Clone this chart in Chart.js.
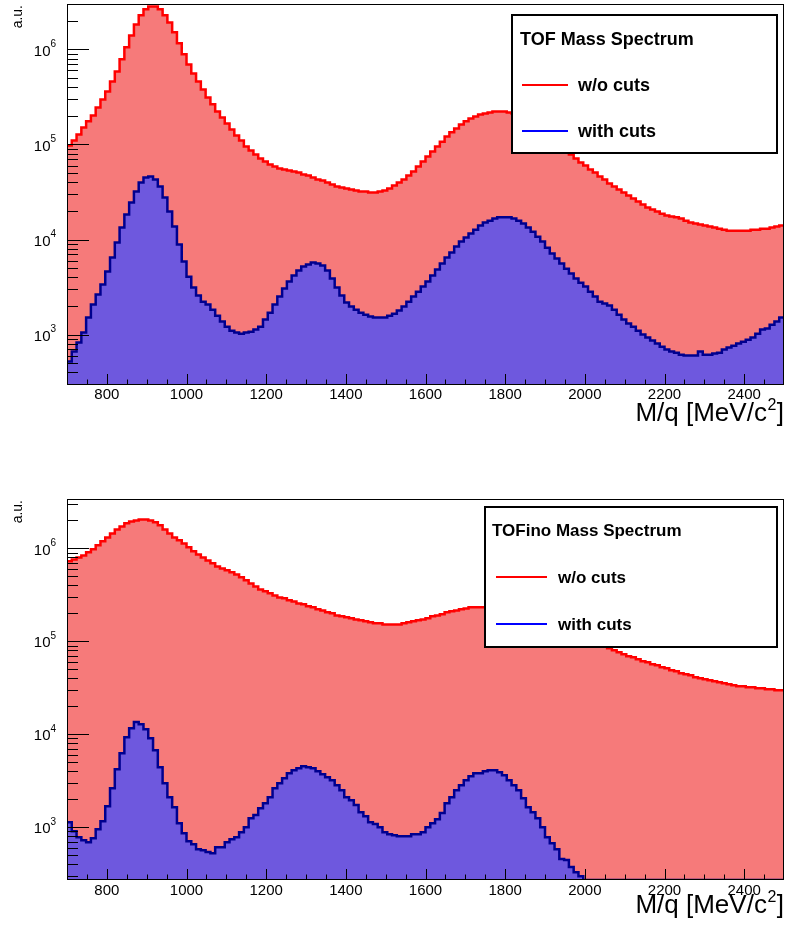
<!DOCTYPE html>
<html>
<head>
<meta charset="utf-8">
<script src="https://cdn.jsdelivr.net/npm/chart.js@4.4.1/dist/chart.umd.min.js"></script>
<style>
  body { margin: 0; background: #fff; }
  .panel { position: absolute; left: 0; width: 785px; height: 463px; }
</style>
</head>
<body>
<canvas id="tofCanvas" class="panel" style="top:0" width="785" height="463"></canvas>
<canvas id="tofinoCanvas" class="panel" style="top:463px" width="785" height="463"></canvas>
<script>
// M/q histogram binning: 150 bins of 12 MeV/c2 from 700 to 2500
const mqLow = 700;
const mqHigh = 2500;
const mqBinWidth = 12;
const xTickValues = [800, 1000, 1200, 1400, 1600, 1800, 2000, 2200, 2400];
const yLabelDecades = [3, 4, 5, 6];

// TOF, without cuts
const tofNoCuts = [
  97500, 110000, 127000, 151000, 175000, 202000, 245000, 297000, 361000, 460000,
  586000, 785000, 1050000, 1400000, 1830000, 2280000, 2640000, 2830000, 2830000, 2640000,
  2280000, 1920000, 1510000, 1160000, 890000, 695000, 558000, 460000, 379000, 312000,
  264000, 222000, 192000, 166000, 144000, 124000, 110000, 95000, 86500, 78400,
  71100, 66200, 61500, 58600, 55800, 54600, 53200, 51900, 50700, 48300,
  47100, 44900, 42800, 41800, 39800, 37900, 36100, 35200, 34400, 33600,
  32700, 32000, 32000, 31200, 31200, 32000, 32700, 34400, 37000, 39800,
  42800, 47100, 51900, 58600, 66200, 74700, 84300, 95000, 107000, 121000,
  134000, 147000, 162000, 175000, 187000, 197000, 207000, 212000, 217000, 222000,
  222000, 222000, 217000, 212000, 202000, 192000, 179000, 166000, 155000, 140000,
  127000, 116000, 105000, 95000, 86500, 78400, 71100, 64600, 60100, 54600,
  50700, 46000, 42800, 38800, 36100, 33600, 31200, 29000, 27000, 25100,
  23300, 21700, 20700, 19700, 18700, 17900, 17500, 17100, 16600, 15800,
  15100, 14700, 14400, 14000, 13700, 13400, 13000, 12700, 12400, 12400,
  12400, 12400, 12400, 12700, 12700, 13000, 13000, 13400, 13700, 14000
];

// TOF, with cuts
const tofWithCuts = [
  520, 662, 824, 1050, 1510, 2070, 2640, 3360, 4600, 6460,
  9300, 13400, 18300, 24500, 32000, 39800, 44900, 46000, 42800, 36100,
  27700, 19700, 13700, 8850, 5870, 4070, 3120, 2570, 2220, 2070,
  1830, 1580, 1370, 1210, 1100, 1050, 1020, 1050, 1070, 1130,
  1210, 1440, 1700, 2070, 2510, 3050, 3610, 4180, 4710, 5190,
  5460, 5730, 5580, 5320, 4710, 3880, 3120, 2570, 2170, 1970,
  1830, 1700, 1620, 1550, 1510, 1510, 1510, 1580, 1660, 1790,
  1970, 2220, 2510, 2830, 3200, 3610, 4180, 4830, 5580, 6460,
  7290, 8430, 9520, 10500, 11600, 12700, 14000, 15100, 15800, 16600,
  17100, 17100, 17100, 16600, 15800, 14700, 13400, 12100, 10700, 9520,
  8200, 7110, 6310, 5580, 4940, 4390, 3880, 3520, 3200, 2830,
  2510, 2220, 2120, 2020, 1830, 1620, 1440, 1310, 1210, 1100,
  1000, 930, 865, 804, 747, 695, 662, 646, 615, 601,
  601, 601, 662, 615, 615, 631, 646, 695, 730, 765,
  804, 843, 885, 930, 1020, 1130, 1160, 1270, 1370, 1510
];

// TOFino, without cuts
const tofinoNoCuts = [
  725000, 761000, 800000, 841000, 906000, 976000, 1080000, 1190000, 1310000, 1450000,
  1600000, 1720000, 1860000, 1950000, 2000000, 2050000, 2050000, 2000000, 1910000, 1770000,
  1600000, 1450000, 1310000, 1220000, 1130000, 1030000, 929000, 862000, 800000, 743000,
  690000, 640000, 609000, 580000, 552000, 525000, 488000, 453000, 420000, 390000,
  362000, 345000, 328000, 312000, 297000, 290000, 276000, 269000, 256000, 250000,
  238000, 232000, 221000, 215000, 205000, 200000, 190000, 186000, 181000, 177000,
  172000, 168000, 164000, 160000, 156000, 156000, 152000, 152000, 152000, 152000,
  156000, 160000, 164000, 168000, 172000, 177000, 186000, 190000, 195000, 205000,
  210000, 215000, 221000, 226000, 232000, 232000, 232000, 232000, 232000, 226000,
  226000, 221000, 215000, 205000, 200000, 190000, 181000, 172000, 164000, 160000,
  152000, 149000, 142000, 135000, 131000, 125000, 119000, 113000, 108000, 103000,
  97600, 92900, 88400, 84100, 80000, 76100, 72500, 69000, 67300, 64000,
  60900, 59400, 56600, 55200, 52500, 51200, 48800, 47500, 45300, 44200,
  43100, 41000, 40000, 39000, 38100, 37200, 36200, 35300, 34500, 33600,
  32800, 32800, 32000, 32000, 31200, 31200, 30500, 30500, 29700, 29700
];

// TOFino, with cuts
const tofinoWithCuts = [
  1130, 906, 780, 725, 690, 761, 950, 1160, 1680, 2620,
  4200, 6250, 9290, 11600, 13500, 12800, 11300, 9060, 6730, 4420,
  2970, 2100, 1640, 1100, 862, 707, 656, 580, 566, 539,
  525, 609, 609, 690, 743, 780, 884, 1000, 1250, 1350,
  1600, 1810, 2100, 2620, 2970, 3360, 3810, 4100, 4310, 4530,
  4420, 4310, 4000, 3720, 3450, 3200, 2830, 2500, 2100, 1950,
  1730, 1450, 1310, 1130, 1080, 1000, 884, 841, 820, 800,
  800, 800, 841, 841, 884, 1000, 1100, 1220, 1420, 1810,
  2100, 2500, 2830, 3200, 3530, 3810, 3810, 4000, 4100, 4100,
  3900, 3620, 3200, 2830, 2500, 2050, 1640, 1450, 1250, 1000,
  780, 673, 580, 453, 442, 372, 328, 297, 0, 0,
  0, 0, 0, 0, 0, 0, 0, 0, 0, 0,
  0, 0, 0, 0, 0, 0, 0, 0, 0, 0,
  0, 0, 0, 0, 0, 0, 0, 0, 0, 0,
  0, 0, 0, 0, 0, 0, 0, 0, 0, 0
];

const fontFamily = '"Liberation Sans", Arial, Helvetica, sans-serif';

// fill colours: average look of ROOT's fine dot hatching
const redFill = 'rgb(246, 122, 122)';
const blueFill = 'rgb(110, 88, 222)';

// outline of a histogram: two points per bin, empty bins sit on the frame
function histPoints(values, floor) {
  const pts = [];
  values.forEach((v, i) => {
    const y = v > 0 ? v : floor;
    const x0 = mqLow + i * mqBinWidth;
    pts.push({ x: x0, y: y }, { x: x0 + mqBinWidth, y: y });
  });
  return pts;
}

const rootStyle = {
  id: 'rootStyle',
  afterDraw(chart, args, o) {
    const ctx = chart.ctx;
    const a = chart.chartArea;
    const xs = chart.scales.x;
    const ys = chart.scales.y;
    ctx.save();
    ctx.strokeStyle = '#000';
    ctx.lineWidth = 1;

    // frame
    ctx.strokeRect(a.left + 0.5, a.top + 0.5, a.right - a.left - 1, a.bottom - a.top - 1);

    // x ticks, inside the frame
    ctx.beginPath();
    for (let v = 750; v < mqHigh; v += 50) {
      const px = Math.round(xs.getPixelForValue(v)) + 0.5;
      const len = v % 200 === 0 ? 11 : 5.5;
      ctx.moveTo(px, a.bottom);
      ctx.lineTo(px, a.bottom - len);
    }
    // y ticks (log)
    for (let d = 2; d <= 6; d++) {
      for (let m = 1; m <= 9; m++) {
        const v = m * Math.pow(10, d);
        if (v < ys.min || v > ys.max) continue;
        const py = Math.round(ys.getPixelForValue(v)) + 0.5;
        ctx.moveTo(a.left, py);
        ctx.lineTo(a.left + (m === 1 ? 22 : 11), py);
      }
    }
    ctx.stroke();

    ctx.fillStyle = '#000';
    // x tick labels
    ctx.font = '15px ' + fontFamily;
    ctx.textAlign = 'center';
    ctx.textBaseline = 'middle';
    xTickValues.forEach(v => {
      ctx.fillText(String(v), xs.getPixelForValue(v), a.bottom + o.xLabelGap);
    });

    // y tick labels 10^n
    yLabelDecades.forEach(d => {
      const py = ys.getPixelForValue(Math.pow(10, d));
      ctx.font = '15px ' + fontFamily;
      ctx.textAlign = 'right';
      ctx.fillText('10', a.left - 16.5, py + 2);
      ctx.font = '10px ' + fontFamily;
      ctx.textAlign = 'left';
      ctx.fillText(String(d), a.left - 16.5, py - 5);
    });

    // x axis title, right aligned: M/q [MeV/c^2]
    const ty = a.bottom + o.titleGap;
    ctx.textBaseline = 'alphabetic';
    ctx.textAlign = 'left';
    ctx.font = '26px ' + fontFamily;
    const wMain = ctx.measureText('M/q [MeV/c').width;
    const wClose = ctx.measureText(']').width;
    ctx.font = '16px ' + fontFamily;
    const wSup = ctx.measureText('2').width;
    const tx = a.right - 1 - wMain - wSup - wClose;
    ctx.font = '26px ' + fontFamily;
    ctx.fillText('M/q [MeV/c', tx, ty);
    ctx.font = '16px ' + fontFamily;
    ctx.fillText('2', tx + wMain + 0.5, ty - 11);
    ctx.font = '26px ' + fontFamily;
    ctx.fillText(']', tx + wMain + wSup + 1, ty);

    // y axis title, rotated
    ctx.save();
    ctx.translate(18, a.top + 1);
    ctx.rotate(-Math.PI / 2);
    ctx.font = '14px ' + fontFamily;
    ctx.textAlign = 'right';
    ctx.textBaseline = 'middle';
    ctx.fillText('a.u.', 0, 0);
    ctx.restore();

    // legend box
    const lg = o.legend;
    ctx.fillStyle = '#fff';
    ctx.fillRect(lg.x, lg.y, lg.w, lg.h);
    ctx.lineWidth = 2;
    ctx.strokeStyle = '#000';
    ctx.strokeRect(lg.x, lg.y, lg.w, lg.h);
    ctx.fillStyle = '#000';
    ctx.font = 'bold ' + lg.font + 'px ' + fontFamily;
    ctx.textAlign = 'left';
    ctx.textBaseline = 'middle';
    ctx.fillText(lg.title, lg.titleX, lg.titleY);
    lg.rows.forEach(r => {
      ctx.strokeStyle = r.color;
      ctx.lineWidth = 2;
      ctx.beginPath();
      ctx.moveTo(lg.lineX1, r.y);
      ctx.lineTo(lg.lineX2, r.y);
      ctx.stroke();
      ctx.fillStyle = '#000';
      ctx.fillText(r.label, lg.textX, r.y + 1);
    });
    ctx.restore();
  }
};

function makePanel(canvasId, noCuts, withCuts, cfg) {
  return new Chart(document.getElementById(canvasId), {
    type: 'line',
    data: {
      datasets: [
        {
          label: 'with cuts',
          data: histPoints(withCuts, cfg.yMin),
          borderColor: '#00008f',
          borderWidth: 2.5,
          backgroundColor: blueFill,
          fill: 'origin',
          pointRadius: 0
        },
        {
          label: 'w/o cuts',
          data: histPoints(noCuts, cfg.yMin),
          borderColor: '#ff0000',
          borderWidth: 2.5,
          backgroundColor: redFill,
          fill: 'origin',
          pointRadius: 0
        }
      ]
    },
    options: {
      responsive: false,
      animation: false,
      devicePixelRatio: 1,
      layout: { padding: { left: 67, top: cfg.top, right: 1, bottom: 463 - cfg.top - 381 } },
      scales: {
        x: { type: 'linear', min: mqLow, max: mqHigh, display: false },
        y: { type: 'logarithmic', min: cfg.yMin, max: cfg.yMax, display: false }
      },
      elements: { line: { tension: 0 } },
      plugins: {
        legend: { display: false },
        tooltip: { enabled: false },
        rootStyle: cfg.style
      }
    },
    plugins: [rootStyle]
  });
}

makePanel('tofCanvas', tofNoCuts, tofWithCuts, {
  top: 4, yMin: 295, yMax: 3.0e6,
  style: {
    xLabelGap: 10, titleGap: 36,
    legend: {
      x: 512, y: 15, w: 265, h: 138, font: 18,
      title: 'TOF Mass Spectrum', titleX: 520, titleY: 40,
      lineX1: 522, lineX2: 568, textX: 578,
      rows: [ { y: 85, color: '#ff0000', label: 'w/o cuts' },
              { y: 131, color: '#0000ff', label: 'with cuts' } ]
    }
  }
});

makePanel('tofinoCanvas', tofinoNoCuts, tofinoWithCuts, {
  top: 36, yMin: 270, yMax: 3.4e6,
  style: {
    xLabelGap: 11, titleGap: 33,
    legend: {
      x: 485, y: 44, w: 292, h: 140, font: 17,
      title: 'TOFino Mass Spectrum', titleX: 492, titleY: 68,
      lineX1: 496, lineX2: 547, textX: 558,
      rows: [ { y: 114, color: '#ff0000', label: 'w/o cuts' },
              { y: 161, color: '#0000ff', label: 'with cuts' } ]
    }
  }
});
</script>
</body>
</html>
